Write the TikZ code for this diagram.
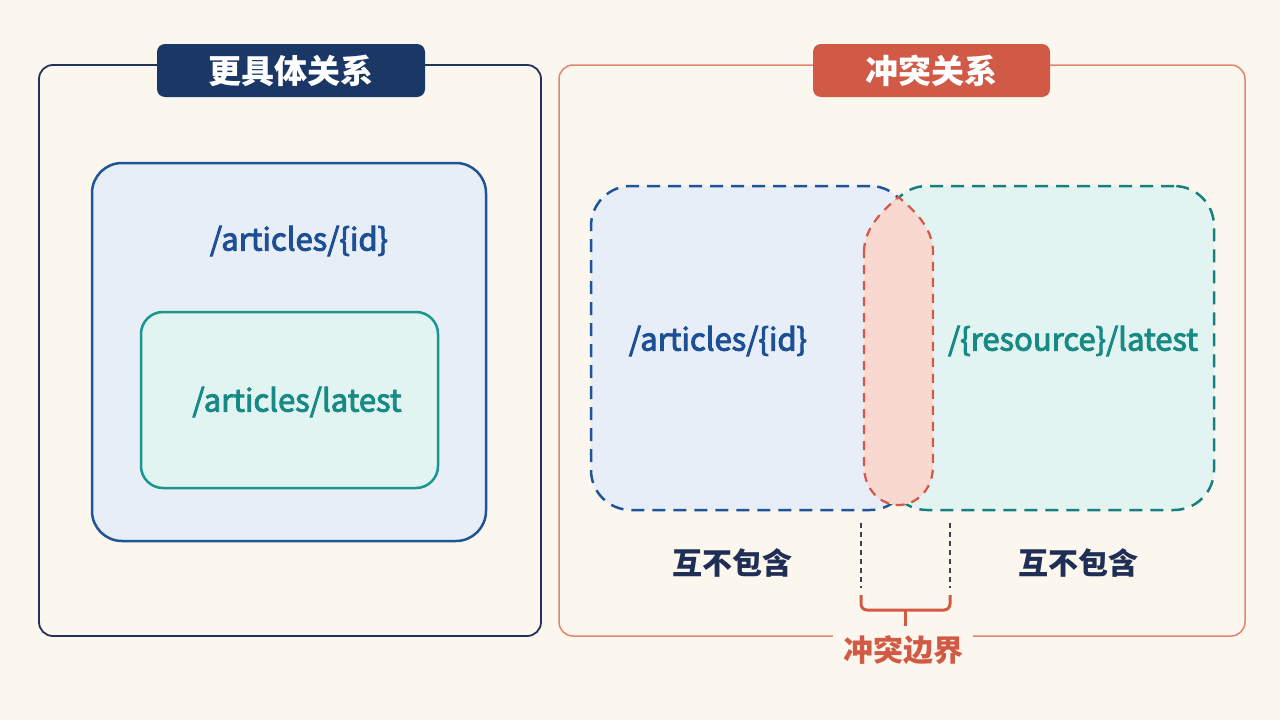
\documentclass[tikz,border=0pt]{standalone}
\usepackage{fontspec}
\setmainfont{Noto Sans CJK SC}
\newfontfamily\medfont[FakeBold=3]{Noto Sans CJK SC}
\definecolor{bg}{HTML}{FBF7EE}
\definecolor{navy}{HTML}{1B3766}
\definecolor{navyline}{HTML}{22335A}
\definecolor{blueline}{HTML}{1F5499}
\definecolor{bluetext}{HTML}{1D4F94}
\definecolor{bluefill}{HTML}{E8EEF8}
\definecolor{tealline}{HTML}{1A9690}
\definecolor{tealtext}{HTML}{178A86}
\definecolor{tealfill}{HTML}{E1F4F1}
\definecolor{tealdash}{HTML}{17807F}
\definecolor{redtab}{HTML}{D05A45}
\definecolor{redline}{HTML}{E08570}
\definecolor{reddash}{HTML}{D25A44}
\definecolor{redfill}{HTML}{F8D8CF}
\definecolor{darktext}{HTML}{1E2E55}
\definecolor{guide}{HTML}{3A4050}
\begin{document}
\begin{tikzpicture}[x=1pt,y=-1pt,
  frame/.style={draw, rounded corners=14pt, line width=1.8pt},
  titletab/.style={rounded corners=8pt, minimum height=53pt, inner sep=0pt, text=white,
    font=\fontsize{33}{36}\selectfont\bfseries},
  solidbox/.style={draw, rectangle, inner sep=0pt, line width=2.5pt},
  dashbox/.style={draw, rectangle, inner sep=0pt, line width=2.5pt, rounded corners=40pt,
    dash pattern=on 13pt off 8pt},
  pathtext/.style={font=\medfont\fontsize{31}{34}\selectfont, inner sep=0pt},
  cjklabel/.style={font=\fontsize{30}{34}\selectfont\bfseries, inner sep=2pt},
  guideline/.style={draw=guide, line width=1.3pt, dash pattern=on 5pt off 4pt},
  bracket/.style={draw=reddash, line width=3pt, rounded corners=6pt}
]
\useasboundingbox[fill=bg] (0,0) rectangle (1280,720);

% ---------- left panel ----------
\draw[frame, draw=navyline] (39,65) rectangle (541,636);
\node[titletab, fill=navy, minimum width=268pt] (ltitle) at (291,70.5) {更具体关系};
\node[solidbox, draw=blueline, fill=bluefill, rounded corners=30pt,
      minimum width=394pt, minimum height=378pt] (bigbox) at (289,352) {};
\node[pathtext, text=bluetext] (lid) at (299,241) {/articles/\{id\}};
\node[solidbox, draw=tealline, fill=tealfill, rounded corners=22pt,
      minimum width=297pt, minimum height=176pt] (innerbox) at (289.5,400) {};
\node[pathtext, text=tealtext] (llatest) at (297,402) {/articles/latest};

% ---------- right panel ----------
\draw[frame, draw=redline, line width=1.5pt] (559,65) rectangle (1245,636);
\node[titletab, fill=redtab, minimum width=237pt] (rtitle) at (931.5,70.5) {冲突关系};

\node[dashbox, draw=blueline, fill=bluefill, minimum width=319pt, minimum height=324pt]
  (abox) at (750.5,348) {};
\node[dashbox, draw=tealdash, fill=tealfill, minimum width=327pt, minimum height=324pt]
  (rbox) at (1050.5,348) {};

% overlap (conflict) region
\draw[draw=reddash, fill=redfill, line width=2.2pt, dash pattern=on 9pt off 7pt]
  (864,252) .. controls (864,226) and (886,208) .. (898.5,197)
  .. controls (911,208) and (933,226) .. (933,252)
  -- (933,466) .. controls (933,490) and (916,505) .. (898.5,505)
  .. controls (881,505) and (864,490) .. (864,466) -- cycle;

\node[pathtext, text=bluetext] (rid) at (718,341) {/articles/\{id\}};
\node[pathtext, text=tealtext] (rres) at (1073,341) {/\{resource\}/latest};

\node[cjklabel, text=darktext] (nl) at (732,563) {互不包含};
\node[cjklabel, text=darktext] (nr) at (1078,563) {互不包含};

% boundary guides and bracket
\coordinate (g1a) at (861,523);
\coordinate (g1b) at (861,588);
\coordinate (g2a) at (950,523);
\coordinate (g2b) at (950,588);
\draw[guideline] (g1a) -- (g1b);
\draw[guideline] (g2a) -- (g2b);
\coordinate (b1) at (861,595);
\coordinate (b2) at (950,595);
\coordinate (bm) at (905.5,610);
\draw[bracket] (b1) -- (861,610) -- (950,610) -- (b2);
\node[cjklabel, text=reddash, fill=bg, inner xsep=10pt, inner ysep=3pt] (cb) at (903,650) {冲突边界};
\draw[draw=reddash, line width=3pt] (bm) -- (905.5,626);
\end{tikzpicture}
\end{document}
